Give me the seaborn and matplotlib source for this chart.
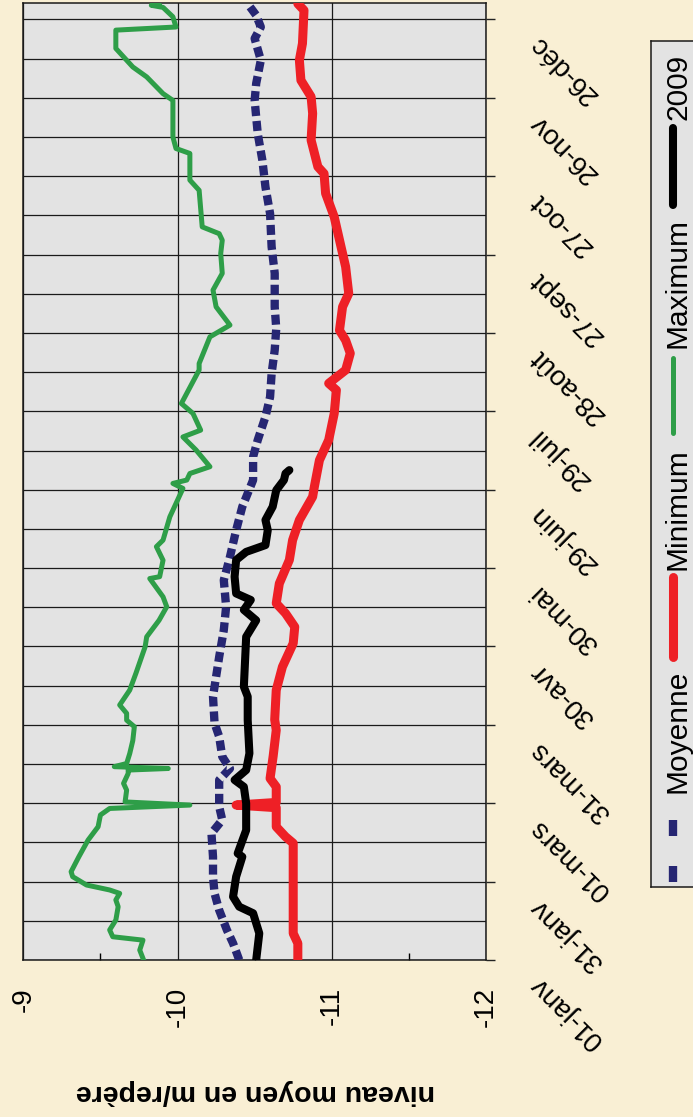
import numpy as np
import pandas as pd
import matplotlib
matplotlib.use("Agg")
import matplotlib.pyplot as plt
from matplotlib.ticker import FixedLocator
import seaborn as sns

# jour de l'annee (0 = 01-janv) et niveau en m/repere
max_days = [0, 3.8, 7.6, 8.9, 11.5, 15.3, 20.4, 23.0, 25.5, 26.8, 28.7, 31.9, 33.8, 39.5, 45.9,
            51.0, 55.5, 58.0, 59.3, 60.5, 65.0, 67.6, 71.4, 72.7, 73.3, 74.0, 75.2, 79.0, 84.0,
            89.3, 91.8, 94.4, 97.6, 103.3, 109.7, 119.9, 123.7, 130.0, 135.2, 139.0, 146.0,
            146.7, 153.0, 158.2, 160.7, 169.6, 176.0, 180.5, 182.4, 183.7, 186.2, 188.8, 195.2,
            200.2, 202.8, 209.2, 213.0, 225.8, 228.3, 238.5, 243.0, 250.0, 256.4, 262.8, 270.4,
            275.5, 278.0, 280.6, 294.6, 298.5, 308.7, 310.6, 315.0, 329.0, 331.6, 338.0, 341.8,
            348.9, 355.9, 357.1, 361.0, 364.6, 365.4, 366.0]
max_vals = [-9.78, -9.755, -9.776, -9.58, -9.56, -9.60, -9.615, -9.60, -9.625, -9.56, -9.41,
            -9.32, -9.31, -9.36, -9.42, -9.485, -9.50, -9.56, -10.08, -9.66, -9.67, -9.65,
            -9.68, -9.68, -9.94, -9.59, -9.67, -9.69, -9.71, -9.72, -9.67, -9.67, -9.625, -9.69,
            -9.73, -9.79, -9.80, -9.88, -9.93, -9.906, -9.82, -9.884, -9.906, -9.863, -9.906,
            -9.95, -10.00, -10.035, -9.97, -10.06, -10.08, -10.21, -10.12, -10.035, -10.15,
            -10.10, -10.025, -10.14, -10.14, -10.21, -10.34, -10.25, -10.23, -10.29, -10.28,
            -10.29, -10.27, -10.16, -10.14, -10.08, -10.08, -9.99, -9.97, -9.97, -9.906, -9.80,
            -9.71, -9.60, -9.60, -9.99, -9.97, -9.906, -9.83, -9.88]

moy_days = [0, 6.4, 11.5, 19.1, 25.5, 31.9, 39.5, 48.5, 53.6, 58.7, 68.9, 73.3, 77.8, 85.5,
            90.6, 100.8, 116.0, 126.3, 135.2, 145.4, 154.3, 164.5, 173.5, 183.7, 192.6, 199.0,
            207.9, 215.5, 224.5, 233.4, 241.7, 250.0, 262.8, 273.0, 285.7, 295.9, 306.1, 316.3,
            329.0, 335.5, 344.4, 352.7, 357.1, 361.6, 366.0]
moy_vals = [-10.40, -10.36, -10.32, -10.27, -10.24, -10.23, -10.23, -10.22, -10.29, -10.27,
            -10.27, -10.34, -10.29, -10.27, -10.24, -10.23, -10.27, -10.30, -10.315, -10.30,
            -10.34, -10.38, -10.42, -10.49, -10.49, -10.52, -10.57, -10.60, -10.61, -10.63,
            -10.64, -10.63, -10.63, -10.61, -10.60, -10.57, -10.55, -10.52, -10.50, -10.51,
            -10.54, -10.50, -10.54, -10.51, -10.455]

min_days = [0, 6.4, 10.2, 20.4, 44.7, 47.2, 51.0, 58.3, 59.3, 60.3, 66.3, 69.5, 78.0, 88.0,
            92.0, 103.3, 112.2, 121.2, 127.5, 132.7, 136.5, 144.1, 153.1, 160.7, 168.4, 177.3,
            181.1, 191.3, 199.0, 209.2, 218.1, 220.7, 225.8, 232.2, 237.2, 241.0, 250.0, 255.1,
            265.3, 273.0, 284.4, 293.4, 301.0, 303.6, 313.8, 324.0, 330.4, 336.7, 344.4, 350.8,
            363.5, 366.0]
min_vals = [-10.78, -10.78, -10.75, -10.75, -10.75, -10.70, -10.64, -10.64, -10.38, -10.64,
            -10.64, -10.60, -10.62, -10.64, -10.63, -10.64, -10.68, -10.75, -10.76, -10.70,
            -10.64, -10.66, -10.725, -10.746, -10.79, -10.876, -10.887, -10.92, -10.98, -11.016,
            -11.03, -10.98, -11.09, -11.12, -11.09, -11.05, -11.07, -11.11, -11.09, -11.06,
            -11.016, -10.96, -10.95, -10.91, -10.866, -10.876, -10.866, -10.80, -10.79, -10.81,
            -10.82, -10.78]

y2009_days = [0, 10.2, 17.9, 20.4, 24.2, 31.9, 39.5, 40.8, 49.7, 60.0, 66.3, 68.9, 72.7, 79.1,
              91.8, 100.8, 104.6, 123.7, 130.0, 134.0, 137.8, 140.3, 146.7, 153.1, 156.2, 158.8,
              164.5, 168.4, 173.5, 179.8, 183.7, 186.2, 187.5]
y2009_vals = [-10.51, -10.53, -10.49, -10.40, -10.36, -10.38, -10.42, -10.39, -10.445, -10.445,
              -10.43, -10.37, -10.445, -10.466, -10.455, -10.455, -10.43, -10.445, -10.51, -10.43,
              -10.475, -10.38, -10.37, -10.38, -10.445, -10.57, -10.585, -10.57, -10.617, -10.64,
              -10.69, -10.70, -10.725]

date_ticks = [0, 30, 60, 90, 120, 150, 180, 210, 240, 270, 300, 330, 360]
date_labels = ["01-janv", "31-janv", "01-mars", "31-mars", "30-avr", "30-mai", "29-juin",
               "29-juil", "28-août", "27-sept", "27-oct", "26-nov", "26-déc"]
level_ticks = [-9, -10, -11, -12]

plt.rcParams['font.family'] = ['Liberation Sans', 'DejaVu Sans']

W, H = 693, 1117
fig = plt.figure(figsize=(W / 100, H / 100), dpi=100, facecolor='#f9efd4')
ax = fig.add_axes([23.3 / W, 1 - 960 / H, (486 - 23.3) / W, (960 - 2.7) / H])
ax.set_facecolor('#e3e3e3')

# chart is drawn turned a quarter turn: level runs left->right, dates bottom->top
sns.lineplot(x=moy_vals, y=moy_days, ax=ax, sort=False, estimator=None, color='#262673',
             lw=6, linestyle=(0, (1.2, 0.6)), dash_capstyle='butt', zorder=3)
sns.lineplot(x=min_vals, y=min_days, ax=ax, sort=False, estimator=None, color='#ee2026',
             lw=6.5, solid_joinstyle='round', solid_capstyle='round', zorder=4)
sns.lineplot(x=max_vals, y=max_days, ax=ax, sort=False, estimator=None, color='#2e9e48',
             lw=3.6, solid_joinstyle='round', zorder=5)
sns.lineplot(x=y2009_vals, y=y2009_days, ax=ax, sort=False, estimator=None, color='black',
             lw=5.8, solid_joinstyle='round', solid_capstyle='round', zorder=6)

ax.set_xlim(-9, -12)
ax.set_ylim(0, 366.4)
ax.set_xlabel("")
ax.set_ylabel("")

ax.set_xticks(level_ticks)
ax.set_xticklabels([str(t) for t in level_ticks], rotation=90, fontsize=20)
ax.xaxis.set_minor_locator(FixedLocator([-9.5, -10.5, -11.5]))
ax.tick_params(axis='x', which='major', length=0, pad=19.5)
ax.tick_params(axis='x', which='minor', direction='in', length=5, width=1, color='black')

ax.set_yticks(date_ticks)
ax.set_yticks(np.arange(15, 366, 30), minor=True)
ax.yaxis.set_ticks_position('right')
ax.tick_params(axis='y', which='major', direction='out', length=6.5, width=1, color='#222222',
               labelright=False, labelleft=False)
ax.tick_params(axis='y', which='minor', length=0)
ax.grid(axis='x', which='major', color='#1a1a1a', lw=0.9)
ax.grid(axis='y', which='both', color='#1a1a1a', lw=0.9)
ax.set_axisbelow(True)
for s in ax.spines.values():
    s.set_color('#1a1a1a')
    s.set_linewidth(1.1)

for d, lab in zip(date_ticks, date_labels):
    ax.annotate(lab, xy=(1, d), xycoords=('axes fraction', 'data'),
                xytext=(48 * 0.72, -20 * 0.72), textcoords='offset points',
                rotation=135, rotation_mode='anchor', ha='right', va='center',
                fontsize=20, annotation_clip=False)

fig.text(255 / W, 1 - 1092 / H, "niveau moyen en m/repère", rotation=180,
         ha='center', va='center', fontsize=20.5, fontweight='bold')

# legend box (rotated like the chart)
lg = fig.add_axes([651 / W, 1 - 887 / H, 52 / W, (887 - 40.7) / H])
lg.set_facecolor('#e3e3e3')
lg.set_xlim(651, 703)
lg.set_ylim(887, 40.7)
lg.set_xticks([])
lg.set_yticks([])
for s in lg.spines.values():
    s.set_color('#1a1a1a')
    s.set_linewidth(1.1)

lg.plot([673, 673], [882, 805], color='#262673', lw=6, linestyle=(0, (1.92, 3.6)),
        dash_capstyle='butt')
lg.text(678, 731.5, "Moyenne", rotation=90, ha='center', va='center', fontsize=21.5)
lg.plot([673, 673], [657, 577], color='#ee2026', lw=6.5, solid_capstyle='round')
lg.text(678, 509, "Minimum", rotation=90, ha='center', va='center', fontsize=21.5)
lg.plot([673, 673], [433, 358], color='#2e9e48', lw=3.6, solid_capstyle='round')
lg.text(678, 283, "Maximum", rotation=90, ha='center', va='center', fontsize=21.5)
lg.plot([673, 673], [205, 128], color='black', lw=5.8, solid_capstyle='round')
lg.text(678, 86.5, "2009", rotation=90, ha='center', va='center', fontsize=21.5)

fig.savefig("out.png", dpi=100, facecolor=fig.get_facecolor())
